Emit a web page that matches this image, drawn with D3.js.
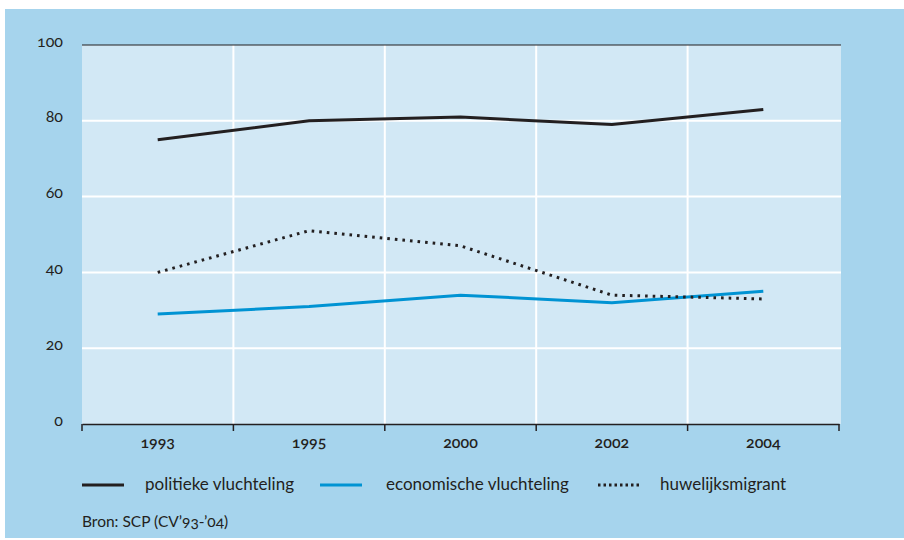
<!DOCTYPE html>
<html lang="nl">
<head>
<meta charset="utf-8">
<title>Vluchtelingen en migranten</title>
<script src="https://d3js.org/d3.v7.min.js"></script>
<style>
  body { margin: 0; background: #fff; }
  svg text { font-family: Lato, "Open Sans", sans-serif; fill: #231f20; font-variant-numeric: oldstyle-nums; }
</style>
</head>
<body>
<div id="chart"></div>
<script>
// data
var years = ["1993", "1995", "2000", "2002", "2004"];
var politiek = [75, 80, 81, 79, 83];
var economisch = [29, 31, 34, 32, 35];
var huwelijk = [40, 51, 47, 34, 33];
var yTicks = [0, 20, 40, 60, 80, 100];
var seriesNames = ["politieke vluchteling", "economische vluchteling", "huwelijksmigrant"];

var W = 904, H = 540;
var svg = d3.select("#chart").append("svg").attr("width", W).attr("height", H);

// outer light blue panel
svg.append("rect").attr("x", 5).attr("y", 9).attr("width", W - 5).attr("height", H - 11)
  .attr("fill", "#a6d4ed");

var x = d3.scaleBand().domain(years).range([82, 839]);
var y = d3.scaleLinear().domain([0, 100]).range([424, 45]);

// plot background
svg.append("rect").attr("x", 82).attr("y", y(100)).attr("width", 841 - 82).attr("height", y(0) - y(100))
  .attr("fill", "#d2e8f5");

// horizontal grid
svg.selectAll(".hg").data(yTicks.filter(function(d) { return d > 0 && d < 100; })).enter()
  .append("line").attr("x1", 82).attr("x2", 841)
  .attr("y1", function(d) { return y(d); }).attr("y2", function(d) { return y(d); })
  .attr("stroke", "#fff").attr("stroke-width", 2);

// vertical grid at band edges
var edges = years.slice(1).map(function(d) { return x(d); });
svg.selectAll(".vg").data(edges).enter()
  .append("line").attr("x1", function(d) { return d; }).attr("x2", function(d) { return d; })
  .attr("y1", y(100)).attr("y2", y(0))
  .attr("stroke", "#fff").attr("stroke-width", 2);

// top line at 100
svg.append("line").attr("x1", 82).attr("x2", 841).attr("y1", y(100)).attr("y2", y(100))
  .attr("stroke", "#231f20").attr("stroke-width", 1.2);

// y labels
svg.selectAll(".yl").data(yTicks).enter().append("text")
  .attr("x", 63).attr("y", function(d) { return y(d); }).attr("dy", "0.1em")
  .attr("text-anchor", "end").style("font-size", "16px")
  .text(function(d) { return d; });

// x axis
var xAxis = d3.axisBottom(x).tickSize(0).tickSizeOuter(0);
var gx = svg.append("g").attr("transform", "translate(0," + y(0) + ")").call(xAxis);
gx.attr("font-family", null).attr("font-size", null);
gx.select(".domain").attr("stroke", "#231f20").attr("stroke-width", 1.5);
gx.selectAll(".tick text").attr("dy", "1.05em").attr("y", 7)
  .style("font-size", "16px").style("font-weight", "600");
var tickPos = [x.range()[0]].concat(years.map(function(d) { return x(d) + x.bandwidth(); }));
gx.selectAll(".bt").data(tickPos).enter().append("line")
  .attr("x1", function(d) { return d; }).attr("x2", function(d) { return d; })
  .attr("y1", 0).attr("y2", 7).attr("stroke", "#231f20").attr("stroke-width", 1.5);

// lines
var line = d3.line()
  .x(function(d, i) { return x(years[i]) + x.bandwidth() / 2; })
  .y(function(d) { return y(d); });

var series = [
  { name: seriesNames[0], values: politiek, color: "#231f20", dash: null },
  { name: seriesNames[1], values: economisch, color: "#0093d3", dash: null },
  { name: seriesNames[2], values: huwelijk, color: "#231f20", dash: "2.6,5" }
];

series.forEach(function(s) {
  svg.append("path").datum(s.values).attr("d", line)
    .attr("fill", "none").attr("stroke", s.color).attr("stroke-width", 3)
    .attr("stroke-dasharray", s.dash);
});

// legend
var legX = [82, 320, 598];
var legG = svg.selectAll(".leg").data(series).enter().append("g")
  .attr("transform", function(d, i) { return "translate(" + legX[i] + ",485)"; });
legG.append("line").attr("x1", 0).attr("x2", 42).attr("y1", 0).attr("y2", 0)
  .attr("stroke", function(d) { return d.color; }).attr("stroke-width", 3)
  .attr("stroke-dasharray", function(d) { return d.dash ? "2.5,3" : null; });
legG.append("text").attr("x", function(d, i) { return i === 2 ? 62 : (i === 1 ? 66 : 63); })
  .attr("y", 0).attr("dy", "0.32em").style("font-size", "17px")
  .text(function(d) { return d.name; });

// source
svg.append("text").attr("x", 82).attr("y", 527).style("font-size", "15.5px")
  .text("Bron: SCP (CV\u201993-\u201904)");
</script>
</body>
</html>
